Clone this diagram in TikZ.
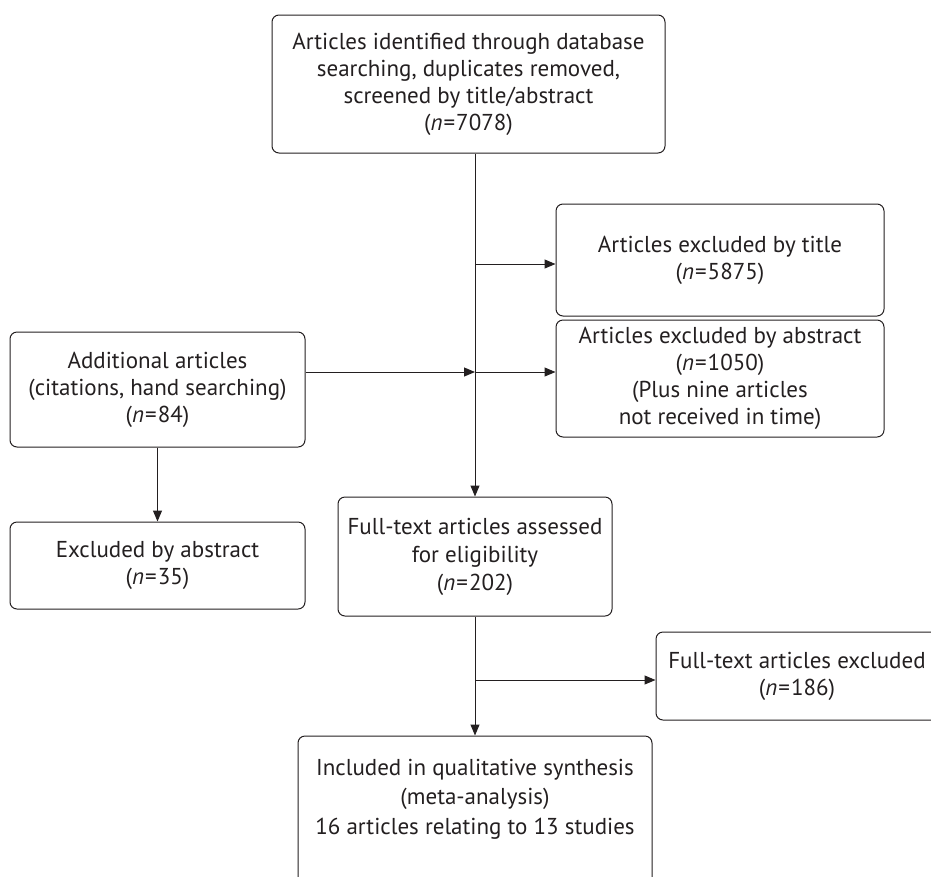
\documentclass[tikz,border=0pt]{standalone}
\usepackage{fontspec}
\setmainfont{PT Sans}
\usetikzlibrary{arrows.meta,calc}
\definecolor{ink}{HTML}{231F20}
\newcommand{\nn}[1]{(\textit{n}\kern1pt=\kern1pt#1)}
\begin{document}
\begin{tikzpicture}[x=1pt,y=1pt,
  box/.style={draw=ink,line width=1pt,rounded corners=7pt,align=center,
    font=\fontsize{23}{27}\selectfont,text=ink,inner sep=0pt},
  conn/.style={draw=ink,line width=1pt},
  arr/.style={conn,-{Triangle[length=11pt,width=9pt]}}]
\useasboundingbox (0,0) rectangle (931,-876);
\node[box,minimum width=393pt,minimum height=138pt] (top) at (468.5,-84)
  {Articles identified through database\\searching, duplicates removed,\\screened by title/abstract\\\nn{7078}};
\node[box,minimum width=328pt,minimum height=112pt] (title) at (720,-260)
  {Articles excluded by title\\\nn{5875}};
\node[box,minimum width=328pt,minimum height=117pt] (abs) at (720,-378.5)
  {Articles excluded by abstract\\\nn{1050}\\(Plus nine articles\\not received in time)};
\node[box,minimum width=295pt,minimum height=115pt] (add) at (157.5,-389.5)
  {Additional articles\\(citations, hand searching)\\\nn{84}};
\node[box,minimum width=295pt,minimum height=87pt] (exabs) at (157.5,-565.5)
  {Excluded by abstract\\\nn{35}};
\node[box,minimum width=274pt,minimum height=119pt,font=\fontsize{23}{28}\selectfont] (full) at (475,-556.5)
  {Full-text articles assessed\\for eligibility\\\nn{202}};
\node[box,minimum width=310pt,minimum height=88pt] (ftex) at (811,-676)
  {\hspace*{-28pt}Full-text articles excluded\\\hspace*{-28pt}\nn{186}};
\node[box,minimum width=354pt,minimum height=160pt,font=\fontsize{23}{29.5}\selectfont] (incl) at (475,-816)
  {Included in qualitative synthesis\\(meta-analysis)\\16 articles relating to 13 studies\\\strut};
\coordinate (j1) at (475,-264);
\coordinate (j2) at (475,-372);
\coordinate (j3) at (475,-680);
\draw[arr] (top.south -| full.north) -- (full.north);
\draw[arr] (j1) -- (j1 -| title.west);
\draw[arr] (j2 -| add.east) -- (j2);
\draw[arr] (j2) -- (j2 -| abs.west);
\draw[arr] (add.south) -- (exabs.north);
\draw[arr] (full.south) -- (incl.north);
\draw[arr] (j3) -- (j3 -| ftex.west);
\end{tikzpicture}
\end{document}
